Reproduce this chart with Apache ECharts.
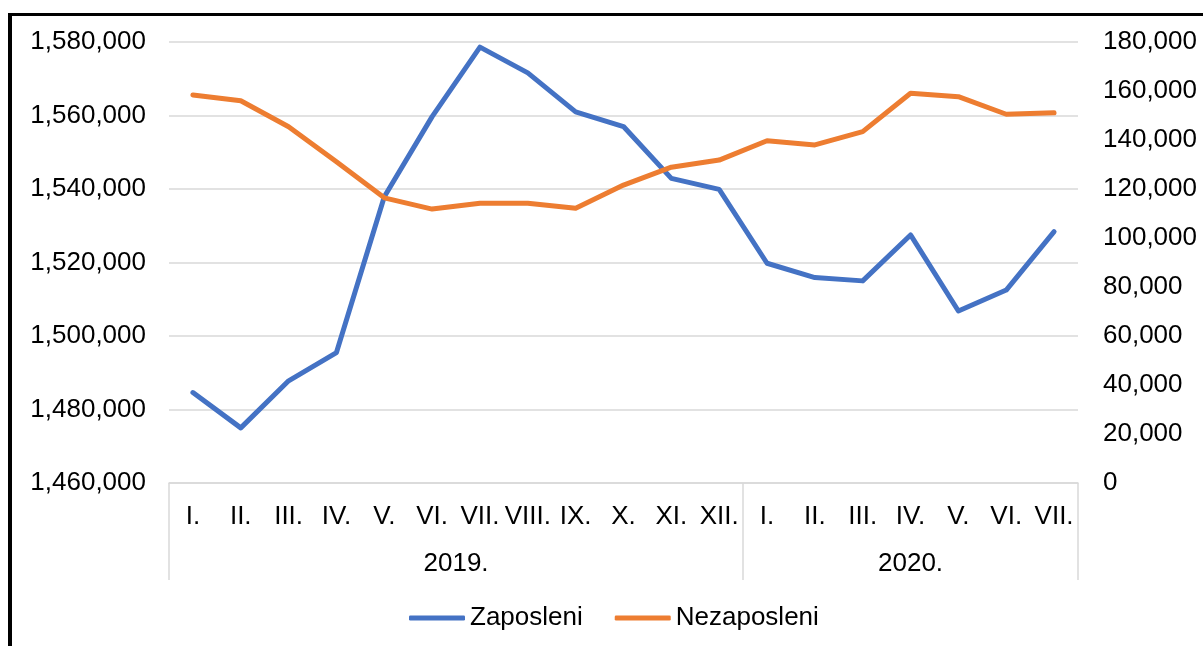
<!DOCTYPE html>
<html>
<head>
<meta charset="utf-8">
<title>Zaposleni / Nezaposleni</title>
<script src="https://cdn.jsdelivr.net/npm/echarts@6/dist/echarts.min.js"></script>
<style>
  body { margin: 0; background: #fff; }
  #main { width: 1203px; height: 646px; }
  /* black frame, only top and left visible in the picture */
  #frame {
    position: absolute; left: 8px; top: 13px;
    width: 1300px; height: 700px;
    border-left: 4px solid #000; border-top: 3px solid #000;
    pointer-events: none;
  }
</style>
</head>
<body>
<div id="main"></div>
<div id="frame"></div>
<script>
var months = ['I.', 'II.', 'III.', 'IV.', 'V.', 'VI.', 'VII.', 'VIII.', 'IX.', 'X.', 'XI.', 'XII.',
              'I.', 'II.', 'III.', 'IV.', 'V.', 'VI.', 'VII.'];
var years = ['2019.', '2020.'];
var yearSpans = [12, 7];

var zaposleni = [1484600, 1475000, 1487800, 1495500, 1537900, 1559700, 1578600, 1571600, 1561000,
                 1557000, 1542900, 1539900, 1519800, 1515900, 1515000, 1527500, 1506800, 1512500, 1528400];
var nezaposleni = [158400, 156000, 145400, 131100, 116400, 111800, 114200, 114200, 112100,
                   121600, 128900, 131800, 139700, 138000, 143400, 159100, 157700, 150500, 151100];

// year group borders and label centres on a 0..n scale
var yearTicks = [0], yearCentres = [];
var acc = 0;
yearSpans.forEach(function (s) {
    yearCentres.push(acc + s / 2);
    acc += s;
    yearTicks.push(acc);
});

var font = 'Liberation Sans, Arial, sans-serif';
var gridColor = '#d9d9d9';

var myChart = echarts.init(document.getElementById('main'));
myChart.setOption({
    animation: false,
    grid: { left: 169, right: 125, top: 42, bottom: 163 },
    legend: {
        bottom: 10,
        left: 404,
        icon: 'roundRect',
        itemWidth: 56,
        itemHeight: 5,
        itemGap: 32,
        textStyle: { fontFamily: font, fontSize: 26, color: '#000' },
        data: ['Zaposleni', 'Nezaposleni']
    },
    xAxis: [
        {
            type: 'category',
            data: months,
            boundaryGap: true,
            axisLine: { lineStyle: { color: gridColor, width: 1.5 } },
            axisTick: { show: false },
            axisLabel: { interval: 0, margin: 21, fontFamily: font, fontSize: 26, color: '#000' }
        },
        {
            type: 'value',
            position: 'bottom',
            min: 0,
            max: acc,
            splitLine: { show: false },
            axisLine: { show: false },
            axisTick: {
                show: true,
                length: 97,
                customValues: yearTicks,
                lineStyle: { color: gridColor, width: 1.5 }
            },
            axisLabel: {
                margin: 68,
                customValues: yearCentres,
                fontFamily: font, fontSize: 26, color: '#000',
                formatter: function (v) {
                    return years[yearCentres.indexOf(v)];
                }
            }
        }
    ],
    yAxis: [
        {
            type: 'value',
            min: 1460000,
            max: 1580000,
            interval: 20000,
            axisLine: { show: false },
            axisTick: { show: false },
            splitLine: { lineStyle: { color: gridColor, width: 1.5 } },
            axisLabel: {
                margin: 23, fontFamily: font, fontSize: 26, color: '#000',
                formatter: function (v) { return v.toLocaleString('en-US'); }
            }
        },
        {
            type: 'value',
            min: 0,
            max: 180000,
            interval: 20000,
            axisLine: { show: false },
            axisTick: { show: false },
            splitLine: { show: false },
            axisLabel: {
                margin: 25, fontFamily: font, fontSize: 26, color: '#000',
                formatter: function (v) { return v.toLocaleString('en-US'); }
            }
        }
    ],
    series: [
        {
            name: 'Zaposleni',
            type: 'line',
            xAxisIndex: 0,
            yAxisIndex: 0,
            data: zaposleni,
            symbol: 'none',
            itemStyle: { color: '#4472c4' },
            lineStyle: { color: '#4472c4', width: 5, cap: 'round', join: 'round' }
        },
        {
            name: 'Nezaposleni',
            type: 'line',
            xAxisIndex: 0,
            yAxisIndex: 1,
            data: nezaposleni,
            symbol: 'none',
            itemStyle: { color: '#ed7d31' },
            lineStyle: { color: '#ed7d31', width: 5, cap: 'round', join: 'round' }
        }
    ]
});
</script>
</body>
</html>
